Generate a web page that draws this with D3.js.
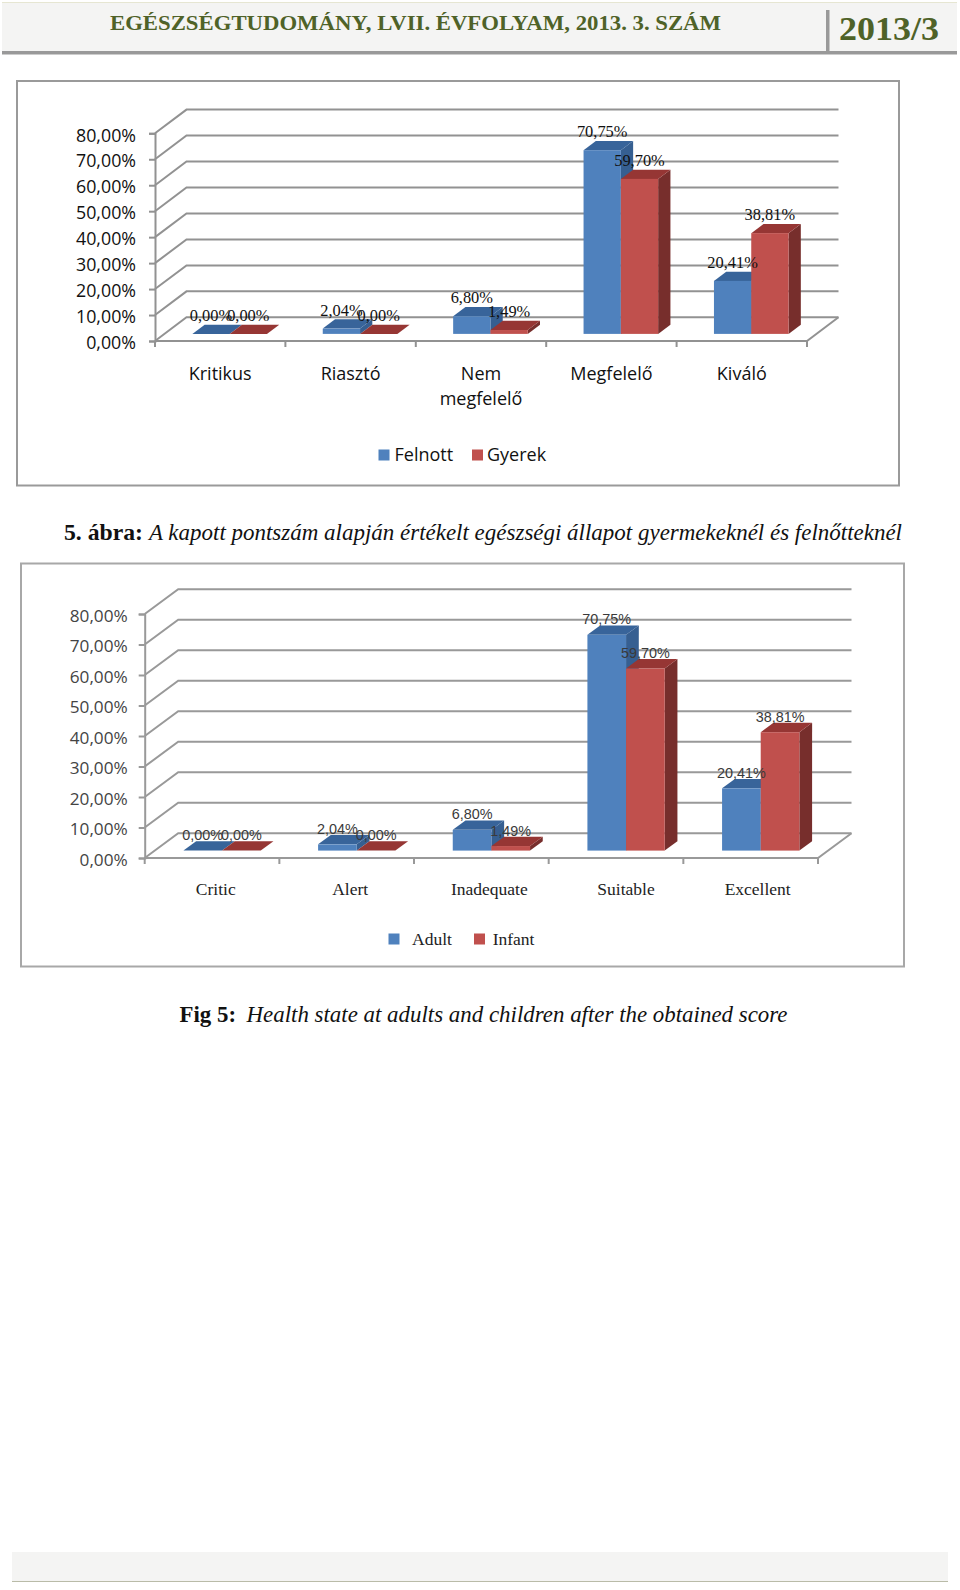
<!DOCTYPE html>
<html>
<head>
<meta charset="utf-8">
<script src="https://cdn.jsdelivr.net/npm/d3@7"></script>
<style>
body { margin: 0; background: #fff; }
svg { display: block; }
</style>
</head>
<body>
<script>
// values read from the page
let adultValues = [0, 2.04, 6.80, 70.75, 20.41]
let childValues = [0, 0, 1.49, 59.70, 38.81]
let yTicks = [0, 10, 20, 30, 40, 50, 60, 70, 80]
let huCategories = ["Kritikus", "Riasztó", "Nem megfelelő", "Megfelelő", "Kiváló"]
let enCategories = ["Critic", "Alert", "Inadequate", "Suitable", "Excellent"]
let huSeries = ["Felnott", "Gyerek"]
let enSeries = ["Adult", "Infant"]

let colors = {
    front: ["#4f81bd", "#c0504d"],
    top: ["#38649a", "#963634"],
    side: ["#365f91", "#772e2c"]
}

let fmt = d => d.toFixed(2).replace(".", ",") + "%"

let svg = d3.select("body").append("svg")
    .attr("width", 960)
    .attr("height", 1590)

//page header
let header = svg.append("g")
header.append("rect").attr("x", 2).attr("y", 3).attr("width", 955).attr("height", 48).attr("fill", "#f4f4f3")
header.append("rect").attr("x", 2).attr("y", 2).attr("width", 955).attr("height", 1).attr("fill", "#e6e6d2")
header.append("rect").attr("x", 2).attr("y", 51).attr("width", 955).attr("height", 3.5).attr("fill", "#999")
header.append("rect").attr("x", 826).attr("y", 10).attr("width", 3.5).attr("height", 42).attr("fill", "#999")
header.append("text")
    .attr("x", 110).attr("y", 29.5)
    .attr("textLength", 611).attr("lengthAdjust", "spacingAndGlyphs")
    .attr("font-family", "Liberation Serif").attr("font-weight", "bold").attr("font-size", 21.5)
    .attr("fill", "#4f6228")
    .text("EGÉSZSÉGTUDOMÁNY, LVII. ÉVFOLYAM, 2013. 3. SZÁM")
header.append("text")
    .attr("x", 839).attr("y", 39.5)
    .attr("textLength", 100).attr("lengthAdjust", "spacingAndGlyphs")
    .attr("font-family", "Liberation Serif").attr("font-weight", "bold").attr("font-size", 33)
    .attr("fill", "#4f6228")
    .text("2013/3")

//page footer
svg.append("rect").attr("x", 12).attr("y", 1552).attr("width", 936).attr("height", 29).attr("fill", "#f4f4f3")
svg.append("rect").attr("x", 12).attr("y", 1581).attr("width", 936).attr("height", 1).attr("fill", "#b9bba8")

// draws one fake 3d column chart, o holds the layout of that chart
let drawChart = (o) => {
    let g = svg.append("g")

    g.append("rect")
        .attr("x", o.frame[0]).attr("y", o.frame[1])
        .attr("width", o.frame[2] - o.frame[0]).attr("height", o.frame[3] - o.frame[1])
        .attr("fill", "#fff").attr("stroke", o.frameColor).attr("stroke-width", 2)

    let x = d3.scaleBand().domain(o.categories).range([o.x0, o.x1])
    let y = d3.scaleLinear().domain([0, 80]).range([o.y0, o.y80])
    // depth into the picture, 0 is the front edge of the floor and 1 the back wall
    let zx = d3.scaleLinear().domain([0, 1]).range([0, o.depthX])
    let zy = d3.scaleLinear().domain([0, 1]).range([0, o.depthY])
    let groupW = x.bandwidth() * o.groupShare
    let s = d3.scaleBand().domain([0, 1]).range([-groupW / 2, groupW / 2])

    //walls
    let wall = g.append("g").attr("stroke", o.gridColor).attr("stroke-width", 2).attr("fill", "none")
    wall.selectAll(".grid")
        .data(yTicks)
        .enter()
        .append("path")
        .attr("class", "grid")
        .attr("d", d => d3.line()([
            [o.x0, y(d)],
            [o.x0 + zx(1), y(d) + zy(1)],
            [o.x1 + zx(1), y(d) + zy(1)]
        ]))
    wall.append("path").attr("d", d3.line()([
        [o.x0, y(0)], [o.x1, y(0)], [o.x1 + zx(1), y(0) + zy(1)]
    ]))

    //y axis
    let yAxis = g.append("g")
        .attr("transform", `translate(${o.x0},0)`)
        .call(d3.axisLeft(y).tickValues(yTicks).tickFormat(fmt).tickSize(6).tickPadding(o.tickPad))
    yAxis.select(".domain").attr("stroke", o.gridColor).attr("stroke-width", 2)
    yAxis.selectAll(".tick line").attr("stroke", o.gridColor).attr("stroke-width", 2)
    yAxis.selectAll("text")
        .attr("transform", `translate(0,${o.tickShift})`)
        .attr("font-family", o.tickFont).attr("font-size", o.tickSize).attr("fill", o.textColor)

    //ticks under the floor, on the band edges
    g.selectAll(".xtick")
        .data(o.categories.concat([null]))
        .enter()
        .append("line")
        .attr("class", "xtick")
        .attr("x1", d => d === null ? o.x1 : x(d))
        .attr("x2", d => d === null ? o.x1 : x(d))
        .attr("y1", y(0))
        .attr("y2", y(0) + 6)
        .attr("stroke", o.gridColor).attr("stroke-width", 2)

    //columns
    let rows = []
    o.categories.forEach((c, i) => {
        rows.push({ c: c, i: i, k: 0, v: adultValues[i] })
        rows.push({ c: c, i: i, k: 1, v: childValues[i] })
    })
    let left = d => x(d.c) + x.bandwidth() / 2 + s(d.k) + zx(o.z0)
    let right = d => left(d) + s.bandwidth()
    let base = zy(o.z0)
    let dx = zx(o.z1) - zx(o.z0)
    let dy = zy(o.z1) - zy(o.z0)
    let poly = pts => pts.map(p => p.join(",")).join(" ")

    let bars = g.selectAll(".bar").data(rows).enter().append("g").attr("class", "bar")
    bars.append("polygon")
        .attr("fill", d => colors.side[d.k])
        .attr("points", d => poly([
            [right(d), y(d.v) + base], [right(d) + dx, y(d.v) + base + dy],
            [right(d) + dx, y(0) + base + dy], [right(d), y(0) + base]
        ]))
    bars.append("polygon")
        .attr("fill", d => colors.top[d.k])
        .attr("points", d => poly([
            [left(d), y(d.v) + base], [left(d) + dx, y(d.v) + base + dy],
            [right(d) + dx, y(d.v) + base + dy], [right(d), y(d.v) + base]
        ]))
    bars.append("rect")
        .attr("fill", d => colors.front[d.k])
        .attr("x", d => left(d))
        .attr("y", d => y(d.v) + base)
        .attr("width", s.bandwidth())
        .attr("height", d => y(0) - y(d.v))

    //labels over the columns
    g.selectAll(".value")
        .data(rows)
        .enter()
        .append("text")
        .attr("class", "value")
        .attr("x", d => left(d) + s.bandwidth() / 2)
        .attr("y", d => y(d.v) + base - o.labelGap)
        .attr("text-anchor", "middle")
        .attr("font-family", o.valueFont).attr("font-size", o.valueSize).attr("fill", o.valueColor)
        .text(d => fmt(d.v))

    //category names, long ones go on two lines
    let names = g.selectAll(".name")
        .data(o.categories)
        .enter()
        .append("text")
        .attr("class", "name")
        .attr("text-anchor", "middle")
        .attr("font-family", o.nameFont).attr("font-size", o.nameSize).attr("fill", o.nameColor)
    names.each(function (d, i) {
        let cx = x(d) + x.bandwidth() / 2 + o.nameShift[i]
        d.split(" ").forEach((word, j) => {
            d3.select(this).append("tspan")
                .attr("x", cx)
                .attr("y", o.nameY + j * 25)
                .text(word)
        })
    })

    //legend
    let legend = g.selectAll(".legend").data(o.series).enter().append("g").attr("class", "legend")
    legend.append("rect")
        .attr("x", (d, i) => o.legendBox[i])
        .attr("y", o.legendY - 11)
        .attr("width", 11).attr("height", 11)
        .attr("fill", (d, i) => colors.front[i])
    legend.append("text")
        .attr("x", (d, i) => o.legendText[i])
        .attr("y", o.legendY + o.legendTextDy)
        .attr("font-family", o.nameFont).attr("font-size", o.nameSize).attr("fill", o.nameColor)
        .text(d => d)
}

drawChart({
    frame: [17, 81, 899, 485.5],
    frameColor: "#9a9a9a",
    categories: huCategories,
    series: huSeries,
    x0: 155, x1: 807, y0: 341, y80: 133.3,
    depthX: 31.5, depthY: -23.7, z0: 0.3, z1: 0.69, groupShare: 0.572,
    gridColor: "#929292",
    tickFont: "Open Sans", tickSize: 17.8, tickPad: 13, tickShift: 2, textColor: "#111",
    valueFont: "Liberation Serif", valueSize: 16.4, valueColor: "#111", labelGap: 13,
    nameFont: "Open Sans", nameSize: 18, nameColor: "#111", nameY: 380, nameShift: [0, 0, 0, 0, 0],
    legendBox: [378.5, 472], legendText: [394.5, 487], legendY: 460.5, legendTextDy: 0.5
})

drawChart({
    frame: [21, 563.5, 904, 966.5],
    frameColor: "#a8a8a8",
    categories: enCategories,
    series: enSeries,
    x0: 144.7, x1: 818, y0: 858, y80: 614,
    depthX: 33.5, depthY: -24.7, z0: 0.3, z1: 0.68, groupShare: 0.574,
    gridColor: "#999",
    tickFont: "Open Sans", tickSize: 17.2, tickPad: 11, tickShift: 1.5, textColor: "#444",
    valueFont: "Liberation Sans", valueSize: 14.4, valueColor: "#3a3a3a", labelGap: 10.5,
    nameFont: "Liberation Serif", nameSize: 17.5, nameColor: "#222", nameY: 895, nameShift: [3.7, 3.5, 8, 10, 7],
    legendBox: [388.5, 474], legendText: [412, 492.7], legendY: 944.5, legendTextDy: 0.5
})

//captions under and between the charts
let caption = (x, y, w, txt, weight, style, size) => svg.append("text")
    .attr("x", x).attr("y", y)
    .attr("textLength", w).attr("lengthAdjust", "spacingAndGlyphs")
    .attr("font-family", "Liberation Serif")
    .attr("font-weight", weight).attr("font-style", style).attr("font-size", size)
    .attr("fill", "#111")
    .text(txt)

caption(64, 540, 79, "5. ábra:", "bold", "normal", 23)
caption(149, 540, 753, "A kapott pontszám alapján értékelt egészségi állapot gyermekeknél és felnőtteknél", "normal", "italic", 23)
caption(179.5, 1022, 56.5, "Fig 5:", "bold", "normal", 23)
caption(246.5, 1022, 541, "Health state at adults and children after the obtained score", "normal", "italic", 23)
</script>
</body>
</html>
